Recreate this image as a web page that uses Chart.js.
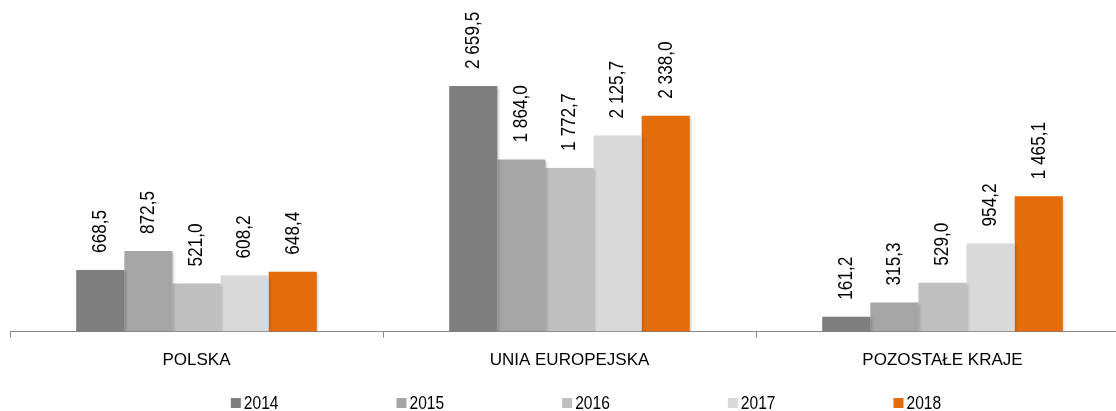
<!DOCTYPE html>
<html>
<head>
<meta charset="utf-8">
<script src="https://cdn.jsdelivr.net/npm/chart.js@4"></script>
<style>
  body { margin: 0; background: #fff; }
  #wrap { width: 1116px; height: 411px; overflow: hidden; }
  #box { width: 1130px; height: 411px; }
</style>
</head>
<body>
<div id="wrap"><div id="box"><canvas id="chart"></canvas></div></div>
<script>
// dane
const categories = ['POLSKA', 'UNIA EUROPEJSKA', 'POZOSTAŁE KRAJE'];
const years = ['2014', '2015', '2016', '2017', '2018'];
const v2014 = [668.5, 2659.5, 161.2];
const v2015 = [872.5, 1864.0, 315.3];
const v2016 = [521.0, 1772.7, 529.0];
const v2017 = [608.2, 2125.7, 954.2];
const v2018 = [648.4, 2338.0, 1465.1];
const colors = ['#7f7f7f', '#a5a5a5', '#bfbfbf', '#d9d9d9', '#e46c0a'];

const FONT = "'Liberation Sans', Arial, sans-serif";
const NARROW = 0.82; // ściśnięcie tekstu, jak Arial Narrow

// format: 2 659,5
function fmt(v) {
    const parts = v.toFixed(1).split('.');
    const int = parts[0].replace(/\B(?=(\d{3})+(?!\d))/g, ' ');
    return int + ',' + parts[1];
}

// cień słupków
const shadowPlugin = {
    id: 'barShadow',
    beforeDatasetsDraw(chart) {
        const ctx = chart.ctx;
        ctx.save();
        ctx.shadowColor = 'rgba(0,0,0,0.25)';
        ctx.shadowBlur = 3;
        ctx.shadowOffsetX = 1.5;
        ctx.shadowOffsetY = 1.5;
    },
    afterDatasetsDraw(chart) {
        chart.ctx.restore();
    }
};

// etykiety wartości, pionowo
const labelPlugin = {
    id: 'valueLabels',
    afterDatasetsDraw(chart) {
        const ctx = chart.ctx;
        ctx.save();
        ctx.fillStyle = '#000';
        ctx.font = '21px ' + FONT;
        ctx.textAlign = 'left';
        ctx.textBaseline = 'middle';
        chart.data.datasets.forEach((ds, i) => {
            chart.getDatasetMeta(i).data.forEach((bar, j) => {
                ctx.save();
                ctx.translate(bar.x, bar.y - 17);
                ctx.rotate(-Math.PI / 2);
                ctx.scale(NARROW, 1);
                ctx.fillText(fmt(ds.data[j]), 0, 0);
                ctx.restore();
            });
        });
        ctx.restore();
    }
};

// legenda
const legendPlugin = {
    id: 'customLegend',
    afterDraw(chart) {
        const ctx = chart.ctx;
        ctx.save();
        ctx.font = '19px ' + FONT;
        ctx.textBaseline = 'middle';
        ctx.textAlign = 'left';
        const box = 10, gap = 3, spacing = 118;
        const items = chart.data.datasets.map(ds => ({
            text: ds.label, color: ds.backgroundColor,
            tw: ctx.measureText(ds.label).width * NARROW
        }));
        items.forEach(it => { it.w = box + gap + it.tw; });
        const total = items.reduce((s, it) => s + it.w, 0) + spacing * (items.length - 1);
        let x = 586 - total / 2;
        const y = 403;
        items.forEach(it => {
            ctx.fillStyle = it.color;
            ctx.fillRect(x, y - box / 2, box, box);
            ctx.fillStyle = '#000';
            ctx.save();
            ctx.translate(x + box + gap, y + 1);
            ctx.scale(NARROW, 1);
            ctx.fillText(it.text, 0, 0);
            ctx.restore();
            x += it.w + spacing;
        });
        ctx.restore();
    }
};

const series = [v2014, v2015, v2016, v2017, v2018];

new Chart(document.getElementById('chart'), {
    type: 'bar',
    data: {
        labels: categories,
        datasets: years.map((y, i) => ({
            label: y,
            data: series[i],
            backgroundColor: colors[i],
            borderWidth: 0,
            barPercentage: 1,
            categoryPercentage: 0.645
        }))
    },
    options: {
        responsive: true,
        maintainAspectRatio: false,
        animation: false,
        layout: { padding: { left: 10, right: 1, top: 9, bottom: 27 } },
        plugins: {
            legend: { display: false },
            tooltip: { enabled: false }
        },
        scales: {
            x: {
                grid: {
                    display: true,
                    drawOnChartArea: false,
                    drawTicks: true,
                    tickLength: 6,
                    color: '#888',
                    offset: true
                },
                border: { display: true, color: '#888', width: 1 },
                ticks: {
                    color: '#000',
                    font: { family: FONT, size: 17 },
                    padding: 13
                }
            },
            y: {
                display: false,
                min: 0,
                max: 3495
            }
        }
    },
    plugins: [shadowPlugin, labelPlugin, legendPlugin]
});
</script>
</body>
</html>
